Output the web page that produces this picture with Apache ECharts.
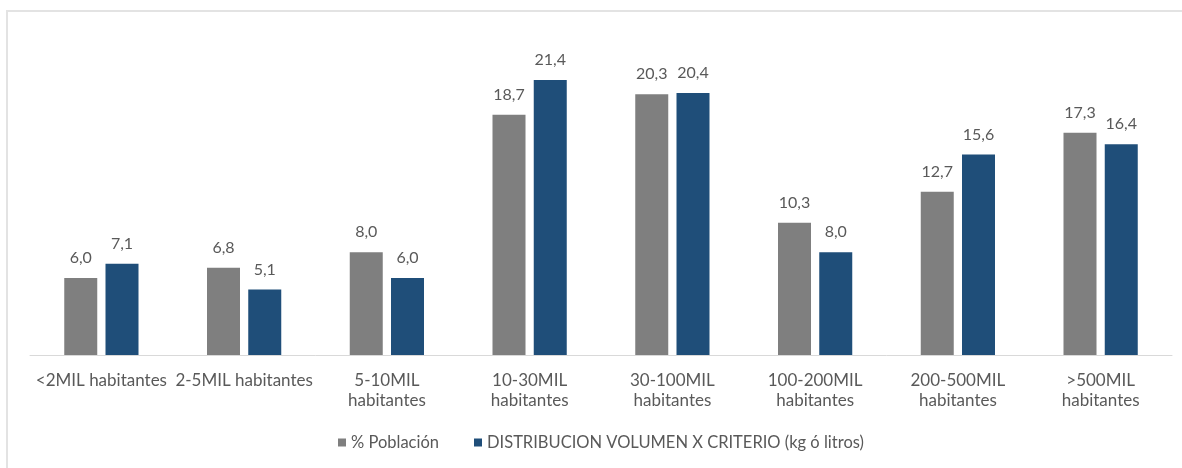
<!DOCTYPE html>
<html>
<head>
<meta charset="utf-8">
<script src="https://cdn.jsdelivr.net/npm/echarts@6/dist/echarts.min.js"></script>
<style>
  html, body { margin: 0; padding: 0; background: #ffffff; }
  #frame {
    position: absolute;
    left: 6px;
    top: 10px;
    width: 1200px;
    height: 470px;
    border-left: 2px solid #e3e3e3;
    border-top: 2px solid #e3e3e3;
  }
  #chart { position: absolute; left: 0; top: 0; width: 1182px; height: 468px; }
</style>
</head>
<body>
<div id="frame"></div>
<div id="chart"></div>
<script>
// categorias (tamaño de municipio)
const categories = [
  "<2MIL habitantes",
  "2-5MIL habitantes",
  "5-10MIL\nhabitantes",
  "10-30MIL\nhabitantes",
  "30-100MIL\nhabitantes",
  "100-200MIL\nhabitantes",
  "200-500MIL\nhabitantes",
  ">500MIL\nhabitantes"
];
const poblacion = [6.0, 6.8, 8.0, 18.7, 20.3, 10.3, 12.7, 17.3];
const volumen = [7.1, 5.1, 6.0, 21.4, 20.4, 8.0, 15.6, 16.4];

const fontFamily = "Lato, 'Open Sans', sans-serif";
const textColor = "#595959";

const chart = echarts.init(document.getElementById("chart"));

const labelStyle = {
  show: true,
  position: "top",
  distance: 12,
  color: textColor,
  fontSize: 16,
  fontFamily: fontFamily,
  formatter: (p) => p.value.toFixed(1).replace(".", ",")
};

const option = {
  animation: false,
  backgroundColor: "transparent",
  grid: { left: 30, right: 10, top: 21, bottom: 113 },
  legend: {
    bottom: 12,
    left: 333,
    itemWidth: 8,
    itemHeight: 8,
    itemGap: 35,
    icon: "rect",
    textStyle: { color: textColor, fontSize: 16.5, fontFamily: fontFamily }
  },
  xAxis: {
    type: "category",
    data: categories,
    axisTick: { show: false },
    axisLine: { lineStyle: { color: "#d9d9d9", width: 1 } },
    axisLabel: {
      interval: 0,
      margin: 16,
      color: textColor,
      fontSize: 17,
      lineHeight: 20,
      fontFamily: fontFamily
    }
  },
  yAxis: {
    type: "value",
    min: 0,
    max: 26,
    show: false,
    splitLine: { show: false }
  },
  series: [
    {
      name: "% Población",
      type: "bar",
      data: poblacion,
      barWidth: 33,
      barGap: "25%",
      itemStyle: { color: "#7f7f7f" },
      label: labelStyle
    },
    {
      name: "DISTRIBUCION VOLUMEN X CRITERIO (kg ó litros)",
      type: "bar",
      data: volumen,
      barWidth: 33,
      itemStyle: { color: "#1f4e79" },
      label: labelStyle
    }
  ]
};

chart.setOption(option);
</script>
</body>
</html>
